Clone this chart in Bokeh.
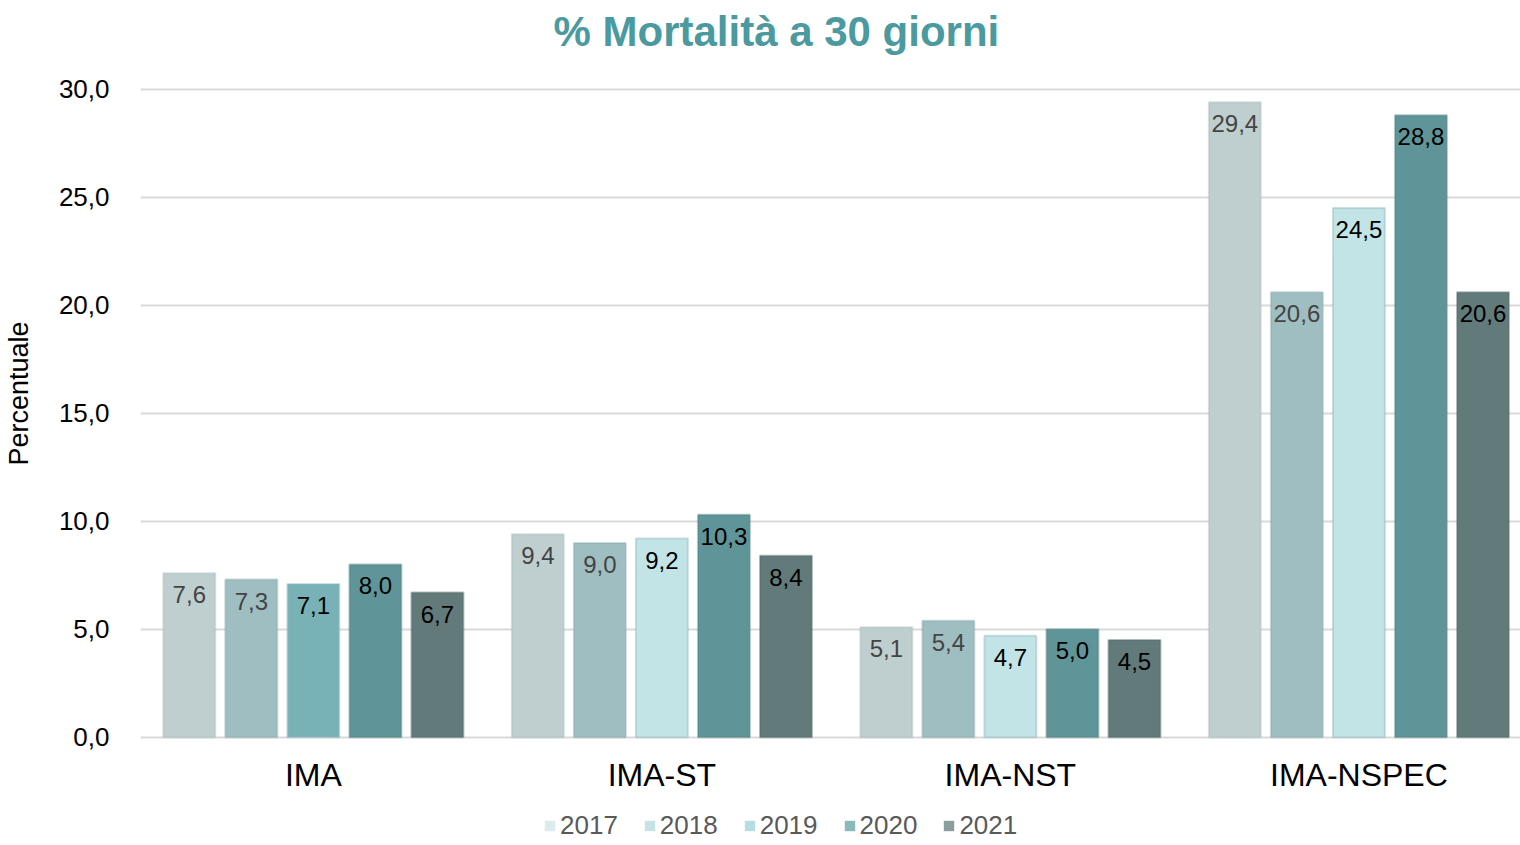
from bokeh.plotting import figure
from bokeh.models import (ColumnDataSource, Range1d, FixedTicker, CustomJSTickFormatter,
                          Legend, LegendItem, Title)
from bokeh.core.properties import value
from bokeh.embed import file_html
from bokeh.resources import INLINE

categories = ["IMA", "IMA-ST", "IMA-NST", "IMA-NSPEC"]
years = ["2017", "2018", "2019", "2020", "2021"]
v2017 = [7.6, 9.4, 5.1, 29.4]
v2018 = [7.3, 9.0, 5.4, 20.6]
v2019 = [7.1, 9.2, 4.7, 24.5]
v2020 = [8.0, 10.3, 5.0, 28.8]
v2021 = [6.7, 8.4, 4.5, 20.6]
series = [v2017, v2018, v2019, v2020, v2021]

bar_colors = [
    ["#bfcfd0"] * 4,
    ["#9fbec2"] * 4,
    ["#78b2b6", "#c3e4e7", "#c3e4e7", "#c3e4e7"],
    ["#5f9598"] * 4,
    ["#627a7a"] * 4,
]
edge_colors = ["#aabcbd", "#8aaaae", "#8fb9bc", "#4f8588", "#526a6a"]
label_colors = ["#444444", "#444444", "#000000", "#000000", "#000000"]
legend_colors = ["#dcebec", "#c5e2e5", "#b5dde2", "#8ab9bc", "#8a9e9e"]

FONT = "Liberation Sans"

# frame extends below zero so the legend can sit inside it
p = figure(frame_width=1385, frame_height=765, output_backend="svg", toolbar_location=None,
           x_range=Range1d(-0.496, 3.478), y_range=Range1d(-4.917, 30.5),
           min_border_left=130, min_border_right=0, min_border_top=78,
           min_border_bottom=0)
p.outline_line_color = None
p.background_fill_color = "white"
p.border_fill_color = "white"

# spacer between frame and title (nearest to the frame)
p.add_layout(Title(text=" ", text_font_size="1px", standoff=21), "above")
p.title = Title(text="% Mortalità a 30 giorni", text_font=FONT, text_font_size="42px",
                text_font_style="bold", text_color="#4a9aa0", align="left", offset=413,
                vertical_align="bottom", standoff=0)

# axes
p.yaxis.ticker = FixedTicker(ticks=[0, 5, 10, 15, 20, 25, 30])
p.yaxis.formatter = CustomJSTickFormatter(code="return tick.toFixed(1).replace('.', ',');")
p.yaxis.major_label_text_font = FONT
p.yaxis.major_label_text_font_size = "26px"
p.yaxis.major_label_text_color = "#000000"
p.yaxis.major_label_standoff = 25
p.yaxis.axis_line_color = None
p.yaxis.major_tick_line_color = None
p.yaxis.minor_tick_line_color = None
p.yaxis.axis_label = "\u00a0" * 18 + "Percentuale"
p.yaxis.axis_label_text_font = FONT
p.yaxis.axis_label_text_font_size = "27px"
p.yaxis.axis_label_text_font_style = "normal"
p.yaxis.axis_label_text_color = "#000000"
p.yaxis.axis_label_standoff = 22

p.xaxis.ticker = FixedTicker(ticks=[0, 1, 2, 3])
p.xaxis.fixed_location = 0
p.xaxis.major_label_overrides = {i: c for i, c in enumerate(categories)}
p.xaxis.major_label_text_font = FONT
p.xaxis.major_label_text_font_size = "32px"
p.xaxis.major_label_text_color = "#000000"
p.xaxis.major_label_standoff = 14
p.xaxis.axis_line_color = None
p.xaxis.major_tick_line_color = None
p.xaxis.minor_tick_line_color = None

p.xgrid.grid_line_color = None
p.ygrid.grid_line_color = "#d9d9d9"
p.ygrid.grid_line_width = 2

step = 0.178
width = 0.149
for k, (yr, vals) in enumerate(zip(years, series)):
    xs = [i + (k - 2) * step for i in range(len(categories))]
    src = ColumnDataSource(dict(
        x=xs, top=vals, color=bar_colors[k],
        label=[f"{v:.1f}".replace(".", ",") for v in vals]))
    p.vbar(x="x", top="top", bottom=0, width=width, source=src, fill_color="color",
           line_color=edge_colors[k], line_alpha=0.45, line_width=2, fill_alpha=1.0)
    p.text(x="x", y="top", text="label", source=src, text_align="center",
           text_baseline="top", y_offset=13, text_font=value(FONT),
           text_font_size="24px", text_color=label_colors[k])

# legend proxies (outside visible range)
items = []
for k, yr in enumerate(years):
    r = p.quad(left=[1.0], right=[1.1], bottom=[-101.0], top=[-100.0],
               fill_color=legend_colors[k], line_color=None)
    items.append(LegendItem(label=yr, renderers=[r]))

legend = Legend(items=items, orientation="horizontal", location=(403, 2),
                label_text_font=FONT, label_text_font_size="26px",
                label_text_color="#595959", border_line_color=None,
                background_fill_alpha=0, glyph_width=13, glyph_height=13,
                spacing=25, padding=0, margin=0, label_standoff=4,
                label_height=26)
p.add_layout(legend, "center")

open("out.html", "w").write(file_html(p, INLINE))
